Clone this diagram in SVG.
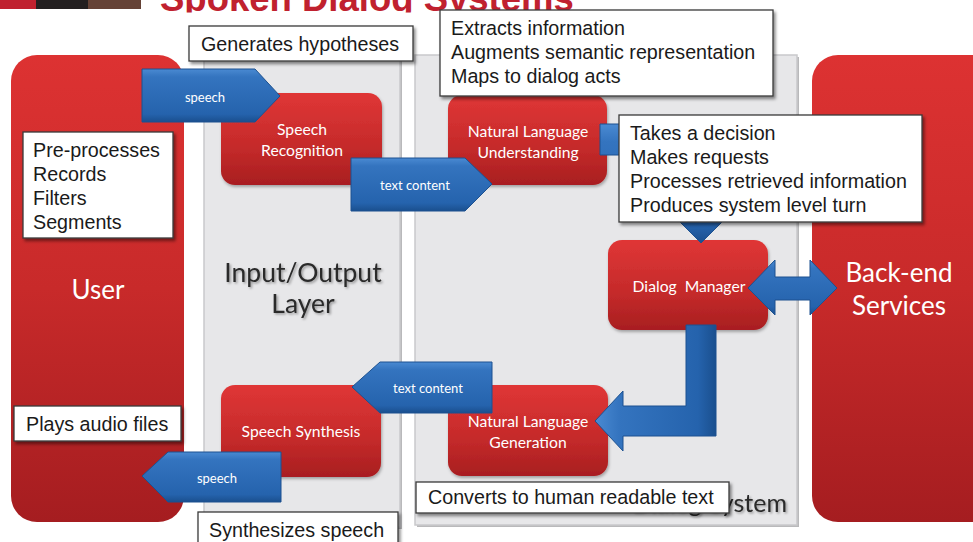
<svg xmlns="http://www.w3.org/2000/svg" width="973" height="542" viewBox="0 0 973 542">
<defs>
<linearGradient id="gRedPanel" x1="0" y1="0" x2="0" y2="1">
<stop offset="0" stop-color="#dd3232"/><stop offset="0.5" stop-color="#c82a2a"/><stop offset="1" stop-color="#a51d20"/>
</linearGradient>
<linearGradient id="gRedNode" x1="0" y1="0" x2="0" y2="1">
<stop offset="0" stop-color="#e03636"/><stop offset="0.6" stop-color="#c42a2a"/><stop offset="1" stop-color="#a81e20"/>
</linearGradient>
<linearGradient id="gBlue" x1="0" y1="0" x2="0" y2="1">
<stop offset="0" stop-color="#4a8ad2"/><stop offset="0.15" stop-color="#3474bf"/><stop offset="0.85" stop-color="#2563ad"/><stop offset="1" stop-color="#1a4f8e"/>
</linearGradient>
<linearGradient id="gBlueV" x1="0" y1="0" x2="1" y2="0">
<stop offset="0" stop-color="#4a8ad2"/><stop offset="0.2" stop-color="#3474bf"/><stop offset="0.85" stop-color="#2563ad"/><stop offset="1" stop-color="#1a4f8e"/>
</linearGradient>
<filter id="fShadow" x="-10%" y="-10%" width="130%" height="140%">
<feDropShadow dx="2" dy="2.5" stdDeviation="1.5" flood-color="#000" flood-opacity="0.45"/>
</filter>
<filter id="fNode" x="-10%" y="-10%" width="130%" height="140%">
<feDropShadow dx="1" dy="2" stdDeviation="1.5" flood-color="#000" flood-opacity="0.3"/>
</filter>
<filter id="fText" x="-10%" y="-20%" width="130%" height="150%">
<feDropShadow dx="1.5" dy="1.5" stdDeviation="1.2" flood-color="#000" flood-opacity="0.35"/>
</filter>
<clipPath id="cTitle"><rect x="0" y="0" width="973" height="12.5"/></clipPath>
</defs>
<style>
.panelGray{fill:#e7e7e9;stroke:#c9c9cb;stroke-width:1.5}
.panelShadow{fill:#b9b9bb}
.panelRed{fill:url(#gRedPanel)}
.node{fill:url(#gRedNode);filter:url(#fNode)}
.nlabel{font-family:Lato,"Open Sans",sans-serif;font-size:15.7px;fill:#ffffff;text-anchor:middle}
.plabel{font-family:Lato,"Open Sans",sans-serif;font-size:26px;fill:#ffffff;text-anchor:middle}
.glabel{font-family:Lato,"Open Sans",sans-serif;font-size:26.5px;fill:#2a2a2a;text-anchor:middle;filter:url(#fText)}
.arrow{fill:url(#gBlue);stroke:#1c5190;stroke-width:1}
.alabel{font-family:Lato,"Open Sans",sans-serif;font-size:13px;fill:#ffffff;text-anchor:middle}
.note{fill:#ffffff;stroke:#3a3a3a;stroke-width:1.3;filter:url(#fShadow)}
.ntext{font-family:"Liberation Sans",Arial,sans-serif;font-size:19.7px;fill:#1a1a1a}
</style>
<rect width="973" height="542" fill="#ffffff"/>
<g id="header">
<rect x="0" y="0" width="36" height="9" fill="#c0212f"/>
<rect x="36" y="0" width="52" height="9" fill="#231f20"/>
<rect x="88" y="0" width="53" height="9" fill="#654236"/>
<text x="160" y="11" clip-path="url(#cTitle)" font-family="'Liberation Sans',Arial,sans-serif" font-weight="bold" font-size="36.5" fill="#c0212f">Spoken Dialog Systems</text>
</g>
<g id="panel-user">
<rect x="11" y="55" width="173" height="467" rx="26" class="panelRed"/>
<text x="98" y="299" class="plabel">User</text>
</g>
<g id="panel-io">
<rect x="206" y="60" width="196" height="469" class="panelShadow"/>
<rect x="204" y="58" width="196" height="469" class="panelGray"/>
<text x="303" y="282" class="glabel">Input/Output</text>
<text x="303" y="313" class="glabel">Layer</text>
</g>
<g id="panel-dialog-system">
<rect x="417" y="57" width="382" height="470" class="panelShadow"/>
<rect x="415" y="55" width="382" height="470" class="panelGray"/>
<text x="787" y="512" class="glabel" style="text-anchor:end;font-size:25px">Dialog System</text>
</g>
<g id="panel-backend">
<rect x="812" y="55" width="190" height="467" rx="26" class="panelRed"/>
<text x="899" y="282" class="plabel">Back-end</text>
<text x="899" y="315" class="plabel">Services</text>
</g>
<g id="node-speech-recognition">
<rect x="221" y="93" width="161" height="92" rx="14" class="node"/>
<text x="302" y="135" class="nlabel">Speech</text>
<text x="302" y="156" class="nlabel">Recognition</text>
</g>
<g id="node-nlu">
<rect x="448" y="95" width="159" height="90" rx="14" class="node"/>
<text x="528" y="137" class="nlabel">Natural Language</text>
<text x="528" y="158" class="nlabel">Understanding</text>
</g>
<g id="node-dialog-manager">
<rect x="608" y="240" width="160" height="90" rx="14" class="node"/>
<text x="689" y="292" class="nlabel" xml:space="preserve">Dialog  Manager</text>
</g>
<g id="node-nlg">
<rect x="448" y="385" width="160" height="91" rx="14" class="node"/>
<text x="528" y="427" class="nlabel">Natural Language</text>
<text x="528" y="448" class="nlabel">Generation</text>
</g>
<g id="node-speech-synthesis">
<rect x="221" y="385" width="160" height="92" rx="14" class="node"/>
<text x="301" y="437" class="nlabel">Speech Synthesis</text>
</g>
<g id="connectors">
<path id="c-speech-in" class="arrow" d="M142,69 H255 L280,96 L255,122 H142 Z"/>
<text x="205" y="102" class="alabel">speech</text>
<path id="c-text-in" class="arrow" d="M351,158 H465 L492,184 L465,211 H351 Z"/>
<text x="415" y="190" class="alabel">text content</text>
<path id="c-nlu-dm" class="arrow" d="M600,124 H716 V222 H722 L701,243 L680,222 H686 V155 H600 Z"/>
<path id="c-dm-backend" class="arrow" d="M748,288 L775,260 V277 H810 V260 L837,288 L810,315 V300 H775 V315 Z"/>
<path id="c-dm-nlg" class="arrow" style="fill:url(#gBlueV)" d="M686,325 V406 H623 V391 L595,421 L623,451 V436 H716 V325 Z"/>
<path id="c-text-out" class="arrow" d="M352,387 L380,362 H492 V413 H380 Z"/>
<text x="428" y="393" class="alabel">text content</text>
<path id="c-speech-out" class="arrow" d="M142,476 L168,452 H281 V502 H168 Z"/>
<text x="217" y="483" class="alabel">speech</text>
</g>
<g id="note-generates">
<rect x="189" y="26" width="224" height="35" class="note"/>
<text x="201" y="51" class="ntext">Generates hypotheses</text>
</g>
<g id="note-extracts">
<rect x="440" y="10" width="333" height="86" class="note"/>
<text x="451" y="35" class="ntext">Extracts information</text>
<text x="451" y="59" class="ntext">Augments semantic representation</text>
<text x="451" y="83" class="ntext">Maps to dialog acts</text>
</g>
<g id="note-preprocesses">
<rect x="23" y="132" width="150" height="106" class="note"/>
<text x="33" y="157" class="ntext">Pre-processes</text>
<text x="33" y="181" class="ntext">Records</text>
<text x="33" y="205" class="ntext">Filters</text>
<text x="33" y="229" class="ntext">Segments</text>
</g>
<g id="note-decision">
<rect x="619" y="115" width="303" height="107" class="note"/>
<text x="630" y="140" class="ntext">Takes a decision</text>
<text x="630" y="164" class="ntext">Makes requests</text>
<text x="630" y="188" class="ntext">Processes retrieved information</text>
<text x="630" y="212" class="ntext">Produces system level turn</text>
</g>
<g id="note-plays">
<rect x="14" y="406" width="167" height="35" class="note"/>
<text x="26" y="431" class="ntext">Plays audio files</text>
</g>
<g id="note-synthesizes">
<rect x="198" y="512" width="200" height="40" class="note"/>
<text x="209" y="537" class="ntext">Synthesizes speech</text>
</g>
<g id="note-converts">
<rect x="416" y="482" width="313" height="31" class="note"/>
<text x="428" y="504" class="ntext">Converts to human readable text</text>
</g>
</svg>
